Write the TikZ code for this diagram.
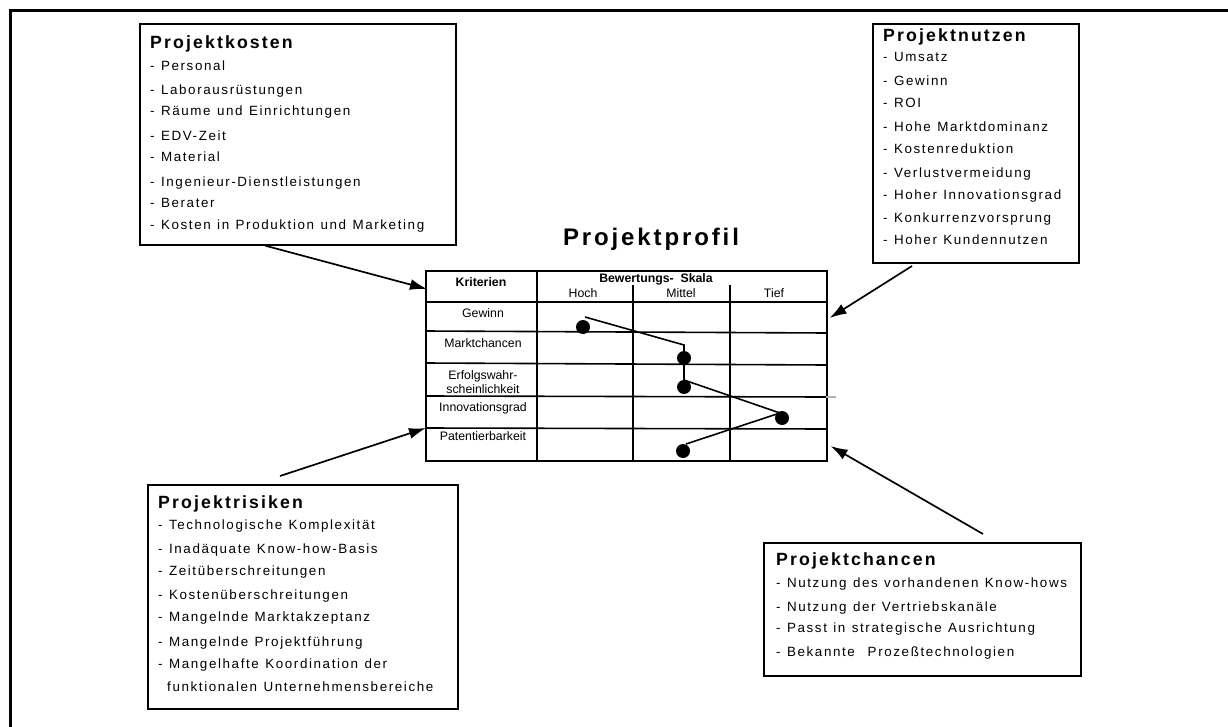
\documentclass[tikz,border=0pt]{standalone}
\usepackage{fontspec}
\setmainfont{Liberation Sans}
\newfontfamily\spaced[LetterSpace=12,WordSpace=1.2]{Liberation Sans}
\usetikzlibrary{arrows.meta,calc}

\begin{document}
\begin{tikzpicture}[x=1pt,y=-1pt,
  box/.style={draw, line width=1.6pt, anchor=north west, inner sep=0pt},
  head/.style={anchor=base west, inner sep=0pt, font=\spaced\fontsize{17.7}{20}\selectfont\bfseries},
  entry/.style={anchor=base west, inner sep=0pt, font=\spaced\fontsize{13.4}{15}\selectfont},
  cell/.style={anchor=base, inner sep=0pt, font=\fontsize{12.3}{14}\selectfont},
  cellhead/.style={cell, font=\fontsize{12.3}{14}\selectfont\bfseries},
  grid/.style={line width=1.6pt},
  conn/.style={line width=1.7pt, -{Latex[length=17pt,width=11pt]}},
  dot/.style={circle, fill=black, inner sep=0pt, minimum size=14pt},
  profile/.style={line width=1.6pt},
]
\useasboundingbox (0,0) rectangle (1228,727);

% outer frame (open to the right and bottom)
\draw[line width=3pt] (10.7,740) -- (10.7,10.7) -- (1240,10.7);

% ---------- Projektkosten ----------
\node[box, minimum width=316, minimum height=221] (kosten) at (139,23) {};
\node[head]  (k0) at (150,48.3)  {Projektkosten};
\node[entry] (k1) at (150,70.6)  {- Personal};
\node[entry] (k2) at (150,94.6)  {- Laborausrüstungen};
\node[entry] (k3) at (150,115.6) {- Räume und Einrichtungen};
\node[entry] (k4) at (150,140.6) {- EDV-Zeit};
\node[entry] (k5) at (150,161.6) {- Material};
\node[entry] (k6) at (150,186.6) {- Ingenieur-Dienstleistungen};
\node[entry] (k7) at (150,207.6) {- Berater};
\node[entry] (k8) at (150,229.6) {- Kosten in Produktion und Marketing};

% ---------- Projektnutzen ----------
\node[box, minimum width=206, minimum height=239] (nutzen) at (872,23) {};
\node[head]  (n0) at (883,41.3)  {Projektnutzen};
\node[entry] (n1) at (883,61.6)  {- Umsatz};
\node[entry] (n2) at (883,85.6)  {- Gewinn};
\node[entry] (n3) at (883,107.6) {- ROI};
\node[entry] (n4) at (883,131.6) {- Hohe Marktdominanz};
\node[entry] (n5) at (883,153.6) {- Kostenreduktion};
\node[entry] (n6) at (883,177.6) {- Verlustvermeidung};
\node[entry] (n7) at (883,199.6) {- Hoher Innovationsgrad};
\node[entry] (n8) at (883,222.6) {- Konkurrenzvorsprung};
\node[entry] (n9) at (883,244.6) {- Hoher Kundennutzen};

% ---------- Projektrisiken ----------
\node[box, minimum width=310, minimum height=224] (risiken) at (147,484) {};
\node[head]  (r0) at (158,508.3) {Projektrisiken};
\node[entry] (r1) at (158,529.6) {- Technologische Komplexität};
\node[entry] (r2) at (158,553.6) {- Inadäquate Know-how-Basis};
\node[entry] (r3) at (158,575.6) {- Zeitüberschreitungen};
\node[entry] (r4) at (158,599.6) {- Kostenüberschreitungen};
\node[entry] (r5) at (158,621.6) {- Mangelnde Marktakzeptanz};
\node[entry] (r6) at (158,646.6) {- Mangelnde Projektführung};
\node[entry] (r7) at (158,668.6) {- Mangelhafte Koordination der};
\node[entry] (r8) at (167,691.6) {funktionalen Unternehmensbereiche};

% ---------- Projektchancen ----------
\node[box, minimum width=317, minimum height=133] (chancen) at (763,542) {};
\node[head]  (c0) at (776,565.3) {Projektchancen};
\node[entry] (c1) at (776,587.6) {- Nutzung des vorhandenen Know-hows};
\node[entry] (c2) at (776,611.6) {- Nutzung der Vertriebskanäle};
\node[entry] (c3) at (776,632.6) {- Passt in strategische Ausrichtung};
\node[entry] (c4) at (776,656.6) {- Bekannte\ \ Prozeßtechnologien};

% ---------- Projektprofil ----------
\node[anchor=base, inner sep=0pt, font=\spaced\fontsize{24}{28}\selectfont\bfseries] (title) at (651,245.5) {Projektprofil};

\node[draw, grid, anchor=north west, inner sep=0pt, minimum width=401, minimum height=190] (tab) at (425,270) {};
% header rule and row rules
\draw[grid] (425,302) -- (826,302);
\draw[grid] (425,331) -- (826,333);
\draw[grid] (425,363) -- (826,365);
\draw[grid] (425,396) -- (826,397);
\draw[gray!60, line width=1.4pt] (826,397) -- (836,397);
\draw[grid] (425,428) -- (826,429);
% column rules
\draw[grid] (537,270) -- (537,460);
\draw[grid] (633,285) -- (633,460);
\draw[grid] (730,285) -- (730,460);

\node[cellhead] (hk) at (481,286.3) {Kriterien};
\node[cellhead] (hs) at (656,282.3) {Bewertungs-\ \ Skala};
\node[cell] (h1) at (583,297.3) {Hoch};
\node[cell] (h2) at (681,297.3) {Mittel};
\node[cell] (h3) at (774,297.3) {Tief};

\node[cell] (l1) at (483,317.3) {Gewinn};
\node[cell] (l2) at (483,347.3) {Marktchancen};
\node[cell] (l3) at (483,379.3) {Erfolgswahr-};
\node[cell] (l3b) at (483,393.3) {scheinlichkeit};
\node[cell] (l4) at (483,411.3) {Innovationsgrad};
\node[cell] (l5) at (483,440.3) {Patentierbarkeit};

% profile curve and its points
\coordinate (p1) at (585,317);
\coordinate (p2) at (684,345);
\coordinate (p3) at (684,380);
\coordinate (p4) at (780,413);
\coordinate (p5) at (686,444);
\draw[profile] (p1) -- (p2) -- (p3) -- (p4) -- (p5);
\node[dot] (d1) at (583,327) {};
\node[dot] (d2) at (684,358) {};
\node[dot] (d3) at (684,387) {};
\node[dot] (d4) at (782,418) {};
\node[dot] (d5) at (683,451) {};

% ---------- connectors ----------
\coordinate (kfrom) at ([xshift=126pt]kosten.south west);
\coordinate (nfrom) at (912,266);
\coordinate (rfrom) at (280,476);
\coordinate (cfrom) at (983,534);
\draw[conn] (kfrom) -- ($(tab.north west)+(2,19)$);
\draw[conn] (nfrom) -- ($(tab.north east)+(2,48)$);
\draw[conn] (rfrom) -- ($(tab.north west)+(1,158)$);
\draw[conn] (cfrom) -- ($(tab.north east)+(3,176)$);
\end{tikzpicture}
\end{document}
